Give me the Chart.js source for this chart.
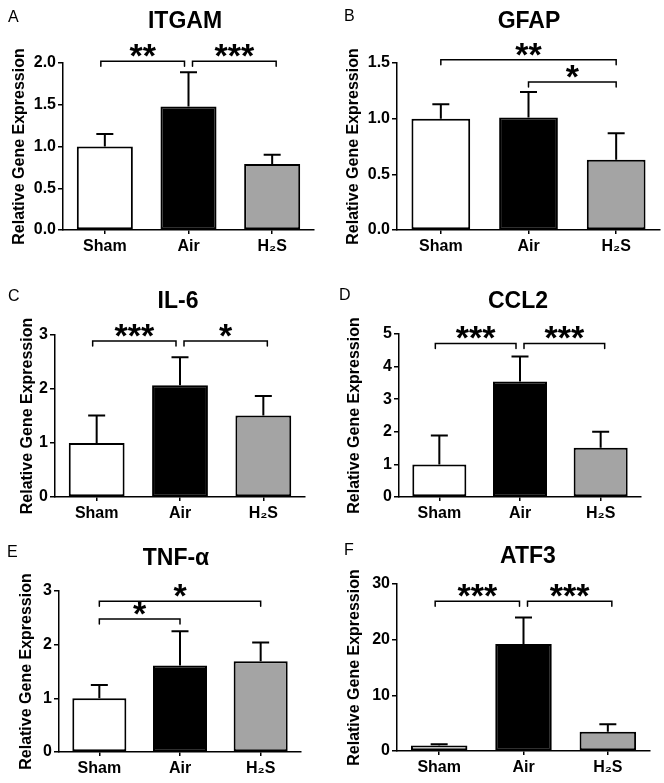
<!DOCTYPE html>
<html>
<head>
<meta charset="utf-8">
<script src="https://cdn.jsdelivr.net/npm/chart.js@4.4.1/dist/chart.umd.min.js"></script>
<style>
  html, body { margin: 0; padding: 0; background: #fff; }
  #figure { position: relative; width: 664px; height: 783px; background: #fff; }
  #figure canvas { position: absolute; }
</style>
</head>
<body>
<div id="figure"></div>
<script>
/* global Chart */

// ---- data ------------------------------------------------------------------
const groups = ['Sham', 'Air', 'H₂S'];

const itgamMean = [1.0, 1.48, 0.79];
const itgamSem = [0.15, 0.41, 0.11];
const itgamTicks = [0, 0.5, 1.0, 1.5, 2.0];
const itgamSig = [[0, 1, 2.02, '**'], [1, 2, 2.02, '***']];

const gfapMean = [1.0, 1.01, 0.63];
const gfapSem = [0.13, 0.23, 0.24];
const gfapTicks = [0, 0.5, 1.0, 1.5];
const gfapSig = [[0, 2, 1.53, '**'], [1, 2, 1.33, '*']];

const il6Mean = [1.0, 2.07, 1.51];
const il6Sem = [0.51, 0.52, 0.36];
const il6Ticks = [0, 1, 2, 3];
const il6Sig = [[0, 1, 2.89, '***'], [1, 2, 2.89, '*']];

const ccl2Mean = [1.0, 3.54, 1.51];
const ccl2Sem = [0.89, 0.77, 0.49];
const ccl2Ticks = [0, 1, 2, 3, 4, 5];
const ccl2Sig = [[0, 1, 4.71, '***'], [1, 2, 4.71, '***']];

const tnfMean = [1.0, 1.61, 1.69];
const tnfSem = [0.25, 0.64, 0.35];
const tnfTicks = [0, 1, 2, 3];
const tnfSig = [[0, 1, 2.48, '*'], [0, 2, 2.81, '*']];

const atf3Mean = [1.0, 19.2, 3.47];
const atf3Sem = [0.2, 4.8, 1.33];
const atf3Ticks = [0, 10, 20, 30];
const atf3Sig = [[0, 1, 26.9, '***'], [1, 2, 26.9, '***']];

// ---- layout ----------------------------------------------------------------
const FONT = "'Liberation Sans', Arial, Helvetica, sans-serif";
const BAR_COLORS = ['#ffffff', '#000000', '#a4a4a4'];
const W = 332;
const H = 261;

const panels = [
  { letter: 'A', gene: 'ITGAM', mean: itgamMean, sem: itgamSem, ticks: itgamTicks, sig: itgamSig, dec: 1,
    x: 0, y: 0, area: { left: 63, top: 63, right: 314, bottom: 230 },
    letterPos: [8, 22], titlePos: [185, 28], labelX: 20 },
  { letter: 'B', gene: 'GFAP', mean: gfapMean, sem: gfapSem, ticks: gfapTicks, sig: gfapSig, dec: 1,
    x: 332, y: 0, area: { left: 65, top: 63, right: 328, bottom: 230 },
    letterPos: [12, 21], titlePos: [197, 28], labelX: 22 },
  { letter: 'C', gene: 'IL-6', mean: il6Mean, sem: il6Sem, ticks: il6Ticks, sig: il6Sig, dec: 0,
    x: 0, y: 261, area: { left: 55, top: 74, right: 305, bottom: 236 },
    letterPos: [8, 40], titlePos: [178, 47], labelX: 28 },
  { letter: 'D', gene: 'CCL2', mean: ccl2Mean, sem: ccl2Sem, ticks: ccl2Ticks, sig: ccl2Sig, dec: 0,
    x: 332, y: 261, area: { left: 67, top: 73, right: 309, bottom: 236 },
    letterPos: [7, 39], titlePos: [186, 47], labelX: 23 },
  { letter: 'E', gene: 'TNF-α', mean: tnfMean, sem: tnfSem, ticks: tnfTicks, sig: tnfSig, dec: 0,
    x: 0, y: 522, area: { left: 59, top: 69, right: 301, bottom: 230 },
    letterPos: [7, 35], titlePos: [176, 43], labelX: 27 },
  { letter: 'F', gene: 'ATF3', mean: atf3Mean, sem: atf3Sem, ticks: atf3Ticks, sig: atf3Sig, dec: 0,
    x: 332, y: 522, area: { left: 65, top: 62, right: 318, bottom: 229 },
    letterPos: [12, 33], titlePos: [196, 41], labelX: 23 },
];

// ---- plugins ---------------------------------------------------------------
// Upward-only SEM bars with caps, drawn through the chart's own scales.
const errorBars = {
  id: 'errorBars',
  afterDatasetsDraw(chart, args, opts) {
    const { ctx, scales } = chart;
    const meta = chart.getDatasetMeta(0);
    ctx.save();
    ctx.strokeStyle = '#000';
    ctx.lineWidth = 2;
    meta.data.forEach((bar, i) => {
      const m = opts.mean[i];
      const yTop = scales.y.getPixelForValue(m + opts.sem[i]);
      const yBase = scales.y.getPixelForValue(m);
      ctx.beginPath();
      ctx.moveTo(bar.x, yBase);
      ctx.lineTo(bar.x, yTop);
      ctx.moveTo(bar.x - 8.5, yTop);
      ctx.lineTo(bar.x + 8.5, yTop);
      ctx.stroke();
    });
    ctx.restore();
  },
};

// Significance brackets + stars, panel letter and gene title.
const annotations = {
  id: 'annotations',
  afterDraw(chart, args, opts) {
    const { ctx, scales } = chart;
    const p = opts.panel;
    ctx.save();
    ctx.fillStyle = '#000';
    ctx.textBaseline = 'alphabetic';

    ctx.font = `16px ${FONT}`;
    ctx.textAlign = 'left';
    ctx.fillText(p.letter, p.letterPos[0], p.letterPos[1]);

    ctx.font = `bold 23px ${FONT}`;
    ctx.textAlign = 'center';
    ctx.fillText(p.gene, p.titlePos[0], p.titlePos[1]);

    ctx.strokeStyle = '#000';
    ctx.lineWidth = 1.5;
    ctx.lineCap = 'round';
    p.sig.forEach(([from, to, level, label]) => {
      // brackets sharing an end at the same height are pulled apart a little
      const shiftL = p.sig.some((o) => o[3] !== undefined && o[2] === level && o[0] === to) ? -4 : 0;
      const shiftR = p.sig.some((o) => o[2] === level && o[1] === from) ? 4 : 0;
      const shift = shiftL + shiftR;
      const x1 = scales.x.getPixelForValue(from) + shift;
      const x2 = scales.x.getPixelForValue(to) + shift;
      const y = scales.y.getPixelForValue(level);
      ctx.beginPath();
      ctx.moveTo(x1, y + 5);
      ctx.lineTo(x1, y);
      ctx.lineTo(x2, y);
      ctx.lineTo(x2, y + 5);
      ctx.stroke();

      ctx.font = `bold 34px ${FONT}`;
      const m = ctx.measureText(label);
      ctx.fillText(label, (x1 + x2) / 2, y - 4 - m.actualBoundingBoxDescent);
    });
    ctx.restore();
  },
};

// ---- charts ----------------------------------------------------------------
Chart.defaults.font.family = FONT;
Chart.defaults.color = '#000';

const figure = document.getElementById('figure');

panels.forEach((p) => {
  const canvas = document.createElement('canvas');
  canvas.width = W;
  canvas.height = H;
  canvas.style.left = `${p.x}px`;
  canvas.style.top = `${p.y}px`;
  figure.appendChild(canvas);

  const yMax = p.ticks[p.ticks.length - 1];

  new Chart(canvas, {
    type: 'bar',
    data: {
      labels: groups,
      datasets: [{
        data: p.mean,
        backgroundColor: BAR_COLORS,
        borderColor: '#000',
        borderWidth: 2,
        borderSkipped: false,
        barPercentage: 0.67,
        categoryPercentage: 1,
      }],
    },
    options: {
      responsive: false,
      animation: false,
      devicePixelRatio: 1,
      layout: { padding: { left: 0, top: p.area.top, right: W - p.area.right, bottom: 0 } },
      plugins: {
        legend: { display: false },
        tooltip: { enabled: false },
        title: { display: false },
        errorBars: { mean: p.mean, sem: p.sem },
        annotations: { panel: p },
      },
      scales: {
        x: {
          grid: { display: true, offset: false, drawOnChartArea: false, drawTicks: true, tickLength: 4, color: '#000', lineWidth: 1.5 },
          border: { display: true, color: '#000', width: 1.5 },
          ticks: { font: { size: 16, weight: 'bold' }, color: '#000', padding: 3, maxRotation: 0 },
          afterFit(scale) { scale.height = H - p.area.bottom; },
        },
        y: {
          min: 0,
          max: yMax,
          afterBuildTicks(scale) { scale.ticks = p.ticks.map((v) => ({ value: v })); },
          grid: { display: true, drawOnChartArea: false, drawTicks: true, tickLength: 5, color: '#000', lineWidth: 1.5 },
          border: { display: true, color: '#000', width: 1.5 },
          ticks: {
            font: { size: 16, weight: 'bold' },
            color: '#000',
            padding: 2,
            callback: (v) => Number(v).toFixed(p.dec),
          },
          title: {
            display: true,
            text: 'Relative Gene Expression',
            font: { size: 16, weight: 'bold' },
            color: '#000',
            padding: { top: p.labelX - 9.6, bottom: 0 },
          },
          afterFit(scale) { scale.width = p.area.left; },
        },
      },
    },
    plugins: [errorBars, annotations],
  });
});
</script>
</body>
</html>
